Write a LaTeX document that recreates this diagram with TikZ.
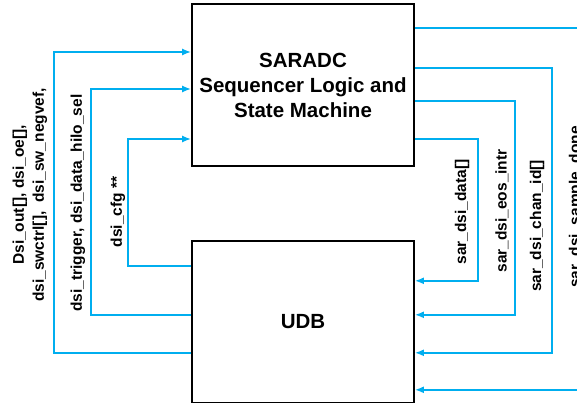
\documentclass[tikz,border=0pt]{standalone}
\usepackage{fontspec}
\setmainfont{Liberation Sans}
\usepackage{tikz}
\usetikzlibrary{positioning,arrows.meta}
\definecolor{sigblue}{HTML}{00AEEF}

\begin{document}
\begin{tikzpicture}[
  x=1pt, y=1pt,
  font=\bfseries\fontsize{15.5}{20}\selectfont,
  blk/.style ={draw, line width=1.8pt, minimum width=222pt,
               minimum height=162pt, align=center, inner sep=0pt},
  ttl/.style ={font=\bfseries\fontsize{20.5}{25}\selectfont},
  ar/.style  ={-{Latex[length=9pt,width=7pt]}, draw=sigblue, line width=1.6pt},
  lbl/.style ={rotate=90, align=center, inner sep=0pt},
]
\useasboundingbox (0,0) rectangle (577,402);

\node[blk, ttl] (sar) at (303,317) {SARADC\\Sequencer Logic and\\State Machine};
\node[blk, ttl, below=73pt of sar] (udb) {UDB};

% udb -> sequencer
\draw[ar] ([yshift=-31pt]udb.west) -- ++(-137pt,0) |- ([yshift=33pt]sar.west);
\draw[ar] ([yshift=7pt]udb.west)   -- ++(-100pt,0) |- ([yshift=-4pt]sar.west);
\draw[ar] ([yshift=56pt]udb.west)  -- ++(-63pt,0)  |- ([yshift=-54pt]sar.west);

% sequencer -> udb
\draw[ar] ([yshift=-54pt]sar.east) -- ++(63pt,0)  |- ([yshift=41pt]udb.east);
\draw[ar] ([yshift=-16pt]sar.east) -- ++(100pt,0) |- ([yshift=7pt]udb.east);
\draw[ar] ([yshift=17pt]sar.east)  -- ++(137pt,0) |- ([yshift=-31pt]udb.east);
\draw[ar] ([yshift=57pt]sar.east)  -- ++(185pt,0) |- ([yshift=-68pt]udb.east);

\node[lbl] (lblout)  at (30,207)  {Dsi\_out[], dsi\_oe[],\\dsi\_swctrl[],\ \ dsi\_sw\_negvef,};
\node[lbl] (lbltrig) at (78,199)  {dsi\_trigger, dsi\_data\_hilo\_sel};
\node[lbl] (lblcfg)  at (118,190) {dsi\_cfg **};

\node[lbl] (lbldata) at (462,190) {sar\_dsi\_data[]};
\node[lbl] (lbleos)  at (502,191) {sar\_dsi\_eos\_intr};
\node[lbl] (lblchan) at (537,176) {sar\_dsi\_chan\_id[]};
\node[lbl] (lbldone) at (576,195) {sar\_dsi\_sample\_done};

\end{tikzpicture}
\end{document}
